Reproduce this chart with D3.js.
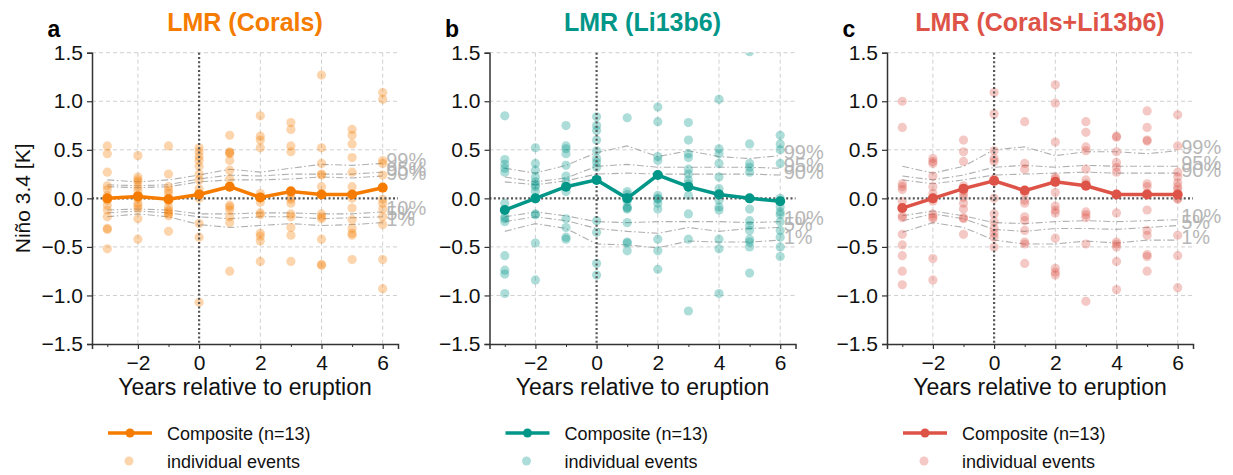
<!DOCTYPE html>
<html>
<head>
<meta charset="utf-8">
<script src="https://cdn.jsdelivr.net/npm/d3@7"></script>
<style>
  body { margin: 0; background: #fff; }
  svg { font-family: "Liberation Sans", Arial, Helvetica, sans-serif; }
</style>
</head>
<body>
<svg id="chart" width="1233" height="475"></svg>
<script>
const years = [-3, -2, -1, 0, 1, 2, 3, 4, 5, 6]
const yTicks = [-1.5, -1.0, -0.5, 0.0, 0.5, 1.0, 1.5]
const pctLabels = ["99%", "95%", "90%", "10%", "5%", "1%"]

const titles = ["LMR (Corals)", "LMR (Li13b6)", "LMR (Corals+Li13b6)"]
const letters = ["a", "b", "c"]
const colors = ["#f57c00", "#009688", "#de5347"]

// composite means (n=13)
const compositeA = [0.0, 0.02, -0.01, 0.04, 0.12, 0.01, 0.07, 0.04, 0.04, 0.11]
const compositeB = [-0.12, 0.0, 0.12, 0.19, 0.0, 0.24, 0.12, 0.04, 0.0, -0.03]
const compositeC = [-0.10, 0.0, 0.10, 0.18, 0.08, 0.17, 0.13, 0.04, 0.04, 0.04]

// individual events, one list per year
const eventsA = [
  [0.54, 0.46, 0.27, 0.13, 0.09, 0.03, -0.02, -0.07, -0.12, -0.19, -0.31, -0.32, -0.52],
  [0.44, 0.22, 0.19, 0.17, 0.12, 0.08, 0.03, 0.00, -0.05, -0.08, -0.11, -0.21, -0.42],
  [0.54, 0.25, 0.12, 0.08, 0.05, 0.00, -0.03, -0.09, -0.12, -0.14, -0.16, -0.18, -0.34],
  [0.52, 0.48, 0.43, 0.39, 0.33, 0.25, 0.19, 0.10, 0.05, 0.00, -0.26, -0.40, -1.07],
  [0.65, 0.48, 0.47, 0.46, 0.39, 0.29, 0.20, -0.07, -0.09, -0.12, -0.19, -0.25, -0.75],
  [0.85, 0.64, 0.60, 0.52, 0.05, 0.01, -0.04, -0.15, -0.17, -0.36, -0.39, -0.44, -0.65],
  [0.78, 0.71, 0.54, 0.48, 0.08, 0.01, -0.01, -0.05, -0.16, -0.19, -0.30, -0.38, -0.65],
  [1.27, 0.52, 0.36, 0.25, 0.24, 0.12, 0.04, -0.16, -0.19, -0.21, -0.42, -0.68, -0.69],
  [0.71, 0.65, 0.56, 0.42, 0.27, 0.12, 0.00, -0.10, -0.22, -0.31, -0.36, -0.38, -0.63],
  [1.09, 1.02, 0.39, 0.36, 0.24, 0.12, -0.01, -0.05, -0.11, -0.19, -0.27, -0.63, -0.93],
]
const eventsB = [
  [0.85, 0.40, 0.35, 0.31, 0.27, -0.05, -0.19, -0.21, -0.24, -0.59, -0.74, -0.78, -0.98],
  [0.52, 0.36, 0.29, 0.22, 0.17, 0.14, 0.12, 0.07, 0.00, -0.16, -0.17, -0.46, -0.84],
  [0.75, 0.54, 0.51, 0.46, 0.34, 0.23, 0.17, 0.12, 0.07, -0.21, -0.30, -0.40, -0.42],
  [0.84, 0.75, 0.70, 0.60, 0.49, 0.41, 0.37, 0.32, 0.19, -0.23, -0.35, -0.67, -0.79],
  [0.83, 0.07, 0.04, 0.01, 0.00, -0.03, -0.09, -0.10, -0.11, -0.25, -0.45, -0.46, -0.54],
  [0.94, 0.79, 0.43, 0.39, 0.24, 0.03, 0.00, -0.01, -0.05, -0.11, -0.42, -0.54, -0.73],
  [0.78, 0.60, 0.46, 0.42, 0.30, 0.25, 0.19, 0.15, 0.12, 0.03, -0.16, -0.42, -1.16],
  [1.02, 0.51, 0.46, 0.36, 0.22, 0.10, 0.05, -0.02, -0.09, -0.12, -0.42, -0.52, -0.98],
  [1.51, 0.56, 0.36, 0.32, 0.27, -0.11, -0.23, -0.28, -0.33, -0.42, -0.45, -0.50, -0.77],
  [0.65, 0.56, 0.50, 0.36, 0.00, -0.09, -0.14, -0.17, -0.24, -0.33, -0.40, -0.50, -0.60],
]
const eventsC = [
  [1.00, 0.73, 0.15, 0.12, 0.09, -0.03, -0.18, -0.20, -0.37, -0.48, -0.59, -0.75, -0.89],
  [0.41, 0.38, 0.36, 0.23, 0.12, 0.05, 0.00, -0.03, -0.16, -0.19, -0.21, -0.62, -0.84],
  [0.60, 0.48, 0.38, 0.13, 0.10, 0.08, 0.05, 0.01, -0.05, -0.11, -0.20, -0.21, -0.37],
  [1.09, 0.87, 0.49, 0.41, 0.38, 0.20, 0.00, -0.16, -0.24, -0.31, -0.36, -0.40, -0.50],
  [0.79, 0.36, 0.30, 0.08, 0.05, -0.02, -0.05, -0.19, -0.23, -0.33, -0.45, -0.47, -0.67],
  [1.17, 0.98, 0.58, 0.22, 0.20, 0.06, -0.08, -0.12, -0.15, -0.41, -0.72, -0.76, -0.79],
  [0.79, 0.68, 0.53, 0.49, 0.30, 0.19, 0.15, 0.13, -0.14, -0.17, -0.20, -0.47, -1.06],
  [0.64, 0.63, 0.48, 0.37, 0.32, 0.27, 0.04, -0.15, -0.45, -0.47, -0.50, -0.65, -0.94],
  [0.90, 0.73, 0.60, 0.59, 0.15, 0.12, 0.05, -0.12, -0.33, -0.38, -0.58, -0.60, -0.75],
  [0.86, 0.54, 0.27, 0.22, 0.16, 0.12, 0.09, 0.04, 0.00, -0.01, -0.38, -0.59, -0.92],
]

// random-sample percentile envelopes (99, 95, 90, 10, 5, 1 %)
const pctA = [
  [0.19, 0.17, 0.19, 0.24, 0.30, 0.27, 0.31, 0.35, 0.34, 0.36],
  [0.14, 0.13, 0.14, 0.20, 0.24, 0.23, 0.25, 0.25, 0.25, 0.27],
  [0.12, 0.11, 0.12, 0.17, 0.19, 0.19, 0.20, 0.22, 0.21, 0.23],
  [-0.12, -0.11, -0.12, -0.16, -0.16, -0.15, -0.15, -0.16, -0.16, -0.14],
  [-0.15, -0.13, -0.15, -0.19, -0.21, -0.19, -0.19, -0.21, -0.20, -0.19],
  [-0.19, -0.16, -0.19, -0.27, -0.30, -0.28, -0.26, -0.28, -0.27, -0.25],
]
const pctB = [
  [0.31, 0.26, 0.34, 0.47, 0.54, 0.43, 0.49, 0.43, 0.41, 0.44],
  [0.22, 0.17, 0.21, 0.33, 0.35, 0.32, 0.32, 0.32, 0.32, 0.31],
  [0.17, 0.14, 0.18, 0.25, 0.26, 0.25, 0.25, 0.25, 0.25, 0.24],
  [-0.19, -0.14, -0.18, -0.24, -0.25, -0.24, -0.24, -0.24, -0.25, -0.24],
  [-0.24, -0.19, -0.23, -0.31, -0.34, -0.36, -0.30, -0.34, -0.31, -0.30],
  [-0.34, -0.26, -0.31, -0.47, -0.48, -0.51, -0.44, -0.45, -0.45, -0.43],
]
const pctC = [
  [0.33, 0.26, 0.33, 0.50, 0.53, 0.44, 0.48, 0.48, 0.46, 0.49],
  [0.23, 0.19, 0.24, 0.32, 0.34, 0.32, 0.34, 0.33, 0.33, 0.33],
  [0.19, 0.15, 0.19, 0.24, 0.25, 0.26, 0.27, 0.26, 0.26, 0.26],
  [-0.18, -0.13, -0.18, -0.25, -0.26, -0.24, -0.23, -0.24, -0.23, -0.22],
  [-0.23, -0.16, -0.21, -0.32, -0.34, -0.31, -0.31, -0.32, -0.30, -0.28],
  [-0.35, -0.25, -0.30, -0.43, -0.47, -0.47, -0.44, -0.46, -0.43, -0.43],
]

const panels = [
  { composite: compositeA, events: eventsA, pct: pctA },
  { composite: compositeB, events: eventsB, pct: pctB },
  { composite: compositeC, events: eventsC, pct: pctC },
]

const svg = d3.select("#chart")
const lefts = [92, 489.5, 887]
const pw = 306
const plotTop = 52.7
const plotBottom = 344

const y = d3.scaleLinear().domain([-1.5, 1.5]).range([plotBottom, plotTop])

panels.forEach((p, k) => {
  const x = d3.scaleLinear().domain([-3.5, 6.5]).range([lefts[k], lefts[k] + pw])
  const color = colors[k]
  const g = svg.append("g")

  g.append("clipPath").attr("id", "clip" + k)
    .append("rect")
    .attr("x", lefts[k]).attr("y", plotTop)
    .attr("width", pw).attr("height", plotBottom - plotTop)

  // grid
  g.selectAll(".vgrid")
    .data([-2, 2, 4, 6])
    .enter().append("line")
    .attr("x1", (d) => x(d)).attr("x2", (d) => x(d))
    .attr("y1", plotTop).attr("y2", plotBottom)
    .attr("stroke", "#cfcfcf").attr("stroke-dasharray", "4,3").attr("stroke-width", 1)
  g.selectAll(".hgrid")
    .data(yTicks.filter((d) => d !== 0 && d !== -1.5))
    .enter().append("line")
    .attr("x1", x(-3.5)).attr("x2", x(6.5))
    .attr("y1", (d) => y(d)).attr("y2", (d) => y(d))
    .attr("stroke", "#cfcfcf").attr("stroke-dasharray", "4,3").attr("stroke-width", 1)

  // percentile envelopes
  const line = d3.line().x((d, i) => x(years[i])).y((d) => y(d))
  g.selectAll(".pct")
    .data(p.pct)
    .enter().append("path")
    .attr("d", line)
    .attr("fill", "none")
    .attr("stroke", "#b0b0b0")
    .attr("stroke-width", 1.1)
    .attr("stroke-dasharray", "7,2.5,1.5,2.5")
  g.selectAll(".pctlab")
    .data(p.pct)
    .enter().append("text")
    .attr("x", x(6) + 3.5)
    .attr("y", (d) => y(d[d.length - 1]) + 3.5)
    .attr("font-size", 20)
    .attr("fill", "#b0b0b0")
    .attr("opacity", 0.9)
    .text((d, i) => pctLabels[i])

  // individual events
  const pts = []
  p.events.forEach((vals, i) => vals.forEach((v) => pts.push([years[i], v])))
  g.append("g").attr("clip-path", `url(#clip${k})`)
    .selectAll("circle")
    .data(pts)
    .enter().append("circle")
    .attr("cx", (d) => x(d[0]))
    .attr("cy", (d) => y(d[1]))
    .attr("r", 4.6)
    .attr("fill", color)
    .attr("fill-opacity", 0.32)

  // zero lines
  g.append("line")
    .attr("x1", x(-3.5)).attr("x2", x(6.5))
    .attr("y1", y(0)).attr("y2", y(0))
    .attr("stroke", "#555").attr("stroke-width", 2.2).attr("stroke-dasharray", "2,2.3")
  g.append("line")
    .attr("x1", x(0)).attr("x2", x(0))
    .attr("y1", plotTop).attr("y2", plotBottom)
    .attr("stroke", "#555").attr("stroke-width", 2.2).attr("stroke-dasharray", "2,2.3")

  // composite
  g.append("path")
    .datum(p.composite)
    .attr("d", line)
    .attr("fill", "none")
    .attr("stroke", color)
    .attr("stroke-width", 3.5)
  g.selectAll(".comp")
    .data(p.composite)
    .enter().append("circle")
    .attr("cx", (d, i) => x(years[i]))
    .attr("cy", (d) => y(d))
    .attr("r", 5)
    .attr("fill", color)

  // axes
  const xAxis = d3.axisBottom(x).tickValues([-2, 0, 2, 4, 6])
    .tickFormat((d) => d3.format("d")(d).replace("-", "\u2212"))
    .tickSize(5).tickPadding(6)
  const xMinor = d3.axisBottom(x).tickValues([-3, -1, 1, 3, 5]).tickFormat("").tickSize(3)
  const gx = g.append("g").attr("transform", `translate(0,${plotBottom})`).call(xAxis)
  g.append("g").attr("transform", `translate(0,${plotBottom})`).call(xMinor)
    .call((s) => s.select(".domain").remove())
  const yAxis = d3.axisLeft(y).tickValues(yTicks)
    .tickFormat((d) => d3.format(".1f")(d).replace("-", "\u2212"))
    .tickSize(5).tickPadding(4)
  const gy = g.append("g").attr("transform", `translate(${lefts[k]},0)`).call(yAxis)
  ;[gx, gy].forEach((a) => {
    a.select(".domain").attr("stroke", "#333").attr("stroke-width", 1.5)
    a.selectAll(".tick line").attr("stroke", "#333").attr("stroke-width", 1.2)
    a.selectAll(".tick text").attr("font-size", 21).attr("fill", "#111")
      .attr("font-family", "Liberation Sans, Arial, sans-serif")
  })
  g.selectAll(".tick line").attr("stroke", "#333")

  // labels
  g.append("text")
    .attr("x", x(1.5)).attr("y", 395)
    .attr("text-anchor", "middle").attr("font-size", 23).attr("fill", "#111")
    .text("Years relative to eruption")
  g.append("text")
    .attr("x", x(1.5)).attr("y", 31)
    .attr("text-anchor", "middle").attr("font-size", 25).attr("font-weight", "bold")
    .attr("fill", color)
    .text(titles[k])
  g.append("text")
    .attr("x", lefts[k] - 44.5).attr("y", 37)
    .attr("font-size", 23).attr("font-weight", "bold").attr("fill", "#000")
    .text(letters[k])

  // legend
  const lx = lefts[k] + 16
  g.append("line")
    .attr("x1", lx).attr("x2", lx + 44)
    .attr("y1", 433).attr("y2", 433)
    .attr("stroke", color).attr("stroke-width", 3.5)
  g.append("circle").attr("cx", lx + 22).attr("cy", 433).attr("r", 4.5).attr("fill", color)
  g.append("circle").attr("cx", lx + 21).attr("cy", 461).attr("r", 4.5)
    .attr("fill", color).attr("fill-opacity", 0.32)
  g.append("text").attr("x", lx + 59).attr("y", 439.5)
    .attr("font-size", 18).attr("fill", "#111").text("Composite (n=13)")
  g.append("text").attr("x", lx + 59).attr("y", 467.5)
    .attr("font-size", 18).attr("fill", "#111").text("individual events")
})

svg.append("text")
  .attr("transform", `translate(30,${y(0)}) rotate(-90)`)
  .attr("text-anchor", "middle").attr("font-size", 21).attr("fill", "#111")
  .text("Niño 3.4 [K]")
</script>
</body>
</html>
